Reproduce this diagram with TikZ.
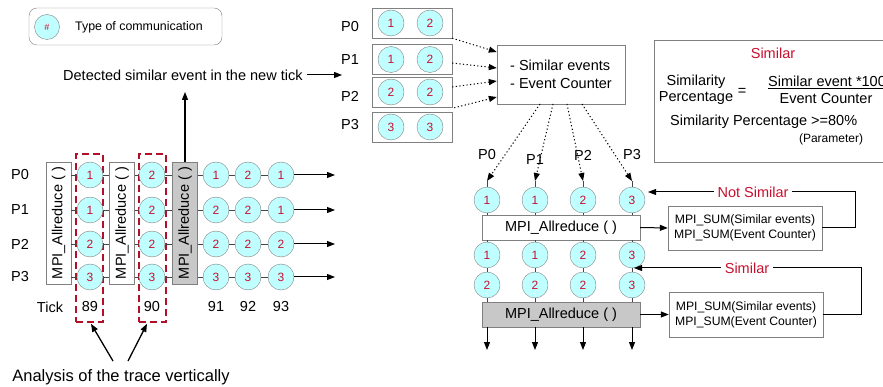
\documentclass[tikz,border=0pt]{standalone}
\usepackage{graphicx}
\usepackage{fontspec}
\setmainfont{Liberation Sans}
\usetikzlibrary{arrows.meta,calc}
\definecolor{cyanlt}{RGB}{192,255,255}
\definecolor{numred}{RGB}{200,16,46}
\definecolor{dashred}{RGB}{176,16,40}
\definecolor{boxgray}{RGB}{200,200,200}
\definecolor{edgegray}{RGB}{128,128,128}
\definecolor{linegray}{RGB}{70,70,70}
\begin{document}
\begin{tikzpicture}[x=1pt,y=-1pt,
  ev/.style={circle,draw=edgegray,fill=cyanlt,minimum size=26pt,inner sep=0pt,font=\fontsize{12}{14}\selectfont,text=numred},
  lbl/.style={font=\fontsize{14.5}{17}\selectfont,inner sep=0pt},
  plainbox/.style={draw=edgegray,fill=white,inner sep=0pt},
  vbox/.style={plainbox,minimum width=25pt,minimum height=122pt,font=\fontsize{14.5}{17}\selectfont},
  hbox/.style={plainbox,minimum width=158pt,minimum height=25pt,font=\fontsize{14.5}{17}\selectfont},
  sumbox/.style={plainbox,minimum width=154pt,minimum height=44pt,align=center,font=\fontsize{12.2}{15}\selectfont},
  dashbox/.style={draw=dashred,line width=1.6pt,dash pattern=on 7pt off 4pt,minimum width=27pt,minimum height=168pt,inner sep=0pt},
  conn/.style={draw=linegray,line width=0.8pt},
  arr/.style={draw=black,line width=1pt,-{Triangle[length=8pt,width=6pt]}},
  dotarr/.style={draw=black,line width=1pt,dash pattern=on 1.2pt off 2.4pt,-{Triangle[length=8pt,width=6pt]}},
  redlbl/.style={lbl,text=numred,fill=white,inner xsep=4pt,inner ysep=1pt}
]
\useasboundingbox (0,0) rectangle (883,387);
\clip (0,0) rectangle (883,387);

% ---------- legend ----------
\node[draw=edgegray,rounded corners=8pt,minimum width=193pt,minimum height=37pt,inner sep=0pt] (leg) at (125.5,26.5) {};
\node[ev,minimum size=25pt,font=\fontsize{9}{11}\selectfont] (legc) at (47,27) {\#};
\node[font=\fontsize{12.4}{15}\selectfont,inner sep=0pt,anchor=west] (legt) at (75,27) {Type of communication};

% ---------- left timeline ----------
\node[vbox] (m1) at (58.5,223) {\rotatebox{90}{MPI\_Allreduce ( )}};
\node[vbox] (m2) at (122,223) {\rotatebox{90}{MPI\_Allreduce ( )}};
\node[vbox,fill=boxgray] (mg) at (185,223) {\rotatebox{90}{MPI\_Allreduce ( )}};
\node[dashbox] (s1) at (89.5,238) {};
\node[dashbox] (s2) at (152.5,238) {};

\foreach \i/\y/\a/\b/\c/\d/\e in {0/175/1/2/1/2/1,1/210/1/2/2/2/1,2/244/2/2/2/2/2,3/277/3/3/3/3/3}{
  \node[lbl] (p\i) at (20,\y) {P\i};
  \node[ev] (a\i) at (90,\y) {\a};
  \node[ev] (b\i) at (152,\y) {\b};
  \node[ev] (c\i) at (216,\y) {\c};
  \node[ev] (d\i) at (248,\y) {\d};
  \node[ev] (e\i) at (281,\y) {\e};
  \coordinate (t\i) at (335,\y);
  \draw[conn] (m1.east |- a\i) -- (a\i);
  \draw[conn] (a\i) -- (m2.west |- a\i);
  \draw[conn] (m2.east |- b\i) -- (b\i);
  \draw[conn] (b\i) -- (mg.west |- b\i);
  \draw[conn] (mg.east |- c\i) -- (c\i);
  \draw[conn] (c\i) -- (d\i);
  \draw[conn] (d\i) -- (e\i);
  \draw[arr] (e\i) -- (t\i);
}

\node[lbl] (tick) at (50,307) {Tick};
\node[lbl] (n89) at (90,307) {89};
\node[lbl] (n90) at (152,307) {90};
\node[lbl] (n91) at (216,307) {91};
\node[lbl] (n92) at (248,307) {92};
\node[lbl] (n93) at (281,307) {93};

\node[font=\fontsize{16.5}{19}\selectfont,inner sep=0pt] (an) at (121,377) {Analysis of the trace vertically};
\coordinate (an1) at (113,361);
\coordinate (an2) at (128,361);
\draw[arr,line width=1.3pt] (an1) -- ([xshift=1.5pt,yshift=-1pt]s1.south);
\draw[arr,line width=1.3pt] (an2) -- ([xshift=-5.5pt,yshift=-1pt]s2.south);

% detected
\node[lbl,anchor=west] (det) at (63,75) {Detected similar event in the new tick};
\coordinate (detend) at (342,75);
\draw[arr] ([xshift=4pt]det.east) -- (detend);
\coordinate (detup) at (185,92);
\draw[arr,line width=1.3pt] (mg.north) -- (detup);

% ---------- top process boxes ----------
\foreach \i/\yb/\yl/\a/\b in {0/23/27/1/2,1/59.5/60/1/2,2/92/96/2/2,3/127/125/3/3}{
  \node[plainbox,minimum width=80pt,minimum height=30pt] (pb\i) at (412,\yb) {};
  \node[ev] (pa\i) at (391,\yb) {\a};
  \node[ev] (pc\i) at (430,\yb) {\b};
  \node[lbl] (tp\i) at (350,\yl) {P\i};
}
\node[plainbox,minimum width=128pt,minimum height=59pt,align=left,font=\fontsize{14.5}{18}\selectfont] (evb) at (561,74.5) {- Similar events\\- Event Counter};
\draw[dotarr] (pb0.south east) -- ([yshift=22.5pt]evb.west);
\draw[dotarr] ([yshift=-3.5pt]pb1.east) -- ([yshift=6.5pt]evb.west);
\draw[dotarr] ([yshift=5pt]pb2.east) -- ([yshift=-6.5pt]evb.west);
\draw[dotarr] ([xshift=2pt,yshift=4pt]pb3.north east) -- ([yshift=-22.5pt]evb.west);

% ---------- similarity box ----------
\node[plainbox,anchor=north west,minimum width=240pt,minimum height=122pt] (simbox) at (654,40) {};
\node[lbl,text=numred] (simt) at (773,53) {Similar};
\node[lbl,align=center,font=\fontsize{14.5}{16}\selectfont] (simp) at (696,90) {Similarity\\Percentage};
\node[lbl] (eq) at (742,92) {=};
\node[lbl,anchor=west] (num) at (768,82) {\underline{Similar event *100}};
\node[lbl] (den) at (826,99) {Event Counter};
\node[lbl,anchor=west] (thr) at (670,122) {Similarity Percentage >=80\%};
\node[font=\fontsize{12}{14}\selectfont,inner sep=0pt] (par) at (831,139) {(Parameter)};

% ---------- lower right ----------
\node[hbox] (mb) at (561,227.5) {MPI\_Allreduce ( )};
\node[hbox,fill=boxgray] (gb) at (561,314.5) {MPI\_Allreduce ( )};
\foreach \i/\x/\ly/\sx/\a/\b/\c in {0/487/155/540/1/1/2,1/535/160/553/1/1/2,2/583/155/567/2/2/2,3/632/155/582/3/3/3}{
  \node[lbl] (lp\i) at (\x,\ly) {P\i};
  \node[ev] (q1\i) at (\x,200) {\a};
  \node[ev] (q2\i) at (\x,255) {\b};
  \node[ev] (q3\i) at (\x,285) {\c};
  \coordinate (tip\i) at (\x,181);
  \coordinate (dn\i) at (\x,350);
  \draw[dotarr] (\sx,104) -- (tip\i);
  \draw[conn] (tip\i) -- (q1\i);
  \draw[conn] (q1\i) -- (q1\i |- mb.north);
  \draw[conn] (q1\i |- mb.south) -- (q2\i);
  \draw[conn] (q2\i) -- (q3\i);
  \draw[conn] (q3\i) -- (q3\i |- gb.north);
  \draw[arr] (q3\i |- gb.south) -- (dn\i);
}
\node[sumbox] (sum1) at (745,228) {MPI\_SUM(Similar events)\\MPI\_SUM(Event Counter)};
\node[sumbox,minimum height=45pt] (sum2) at (746,314.5) {MPI\_SUM(Similar events)\\MPI\_SUM(Event Counter)};
\draw[arr] (mb.east) -- (sum1.west);
\draw[arr] (gb.east) -- (sum2.west);

\coordinate (ns) at (648,192);
\coordinate (sm) at (634,268);
\draw[arr] (sum1.east) -- (855,228) |- (ns);
\draw[arr] (sum2.east) -- (861,314.5) |- (sm);
\node[redlbl] (nslbl) at (753,192) {Not Similar};
\node[redlbl] (slbl) at (747,268) {Similar};
\end{tikzpicture}
\end{document}
